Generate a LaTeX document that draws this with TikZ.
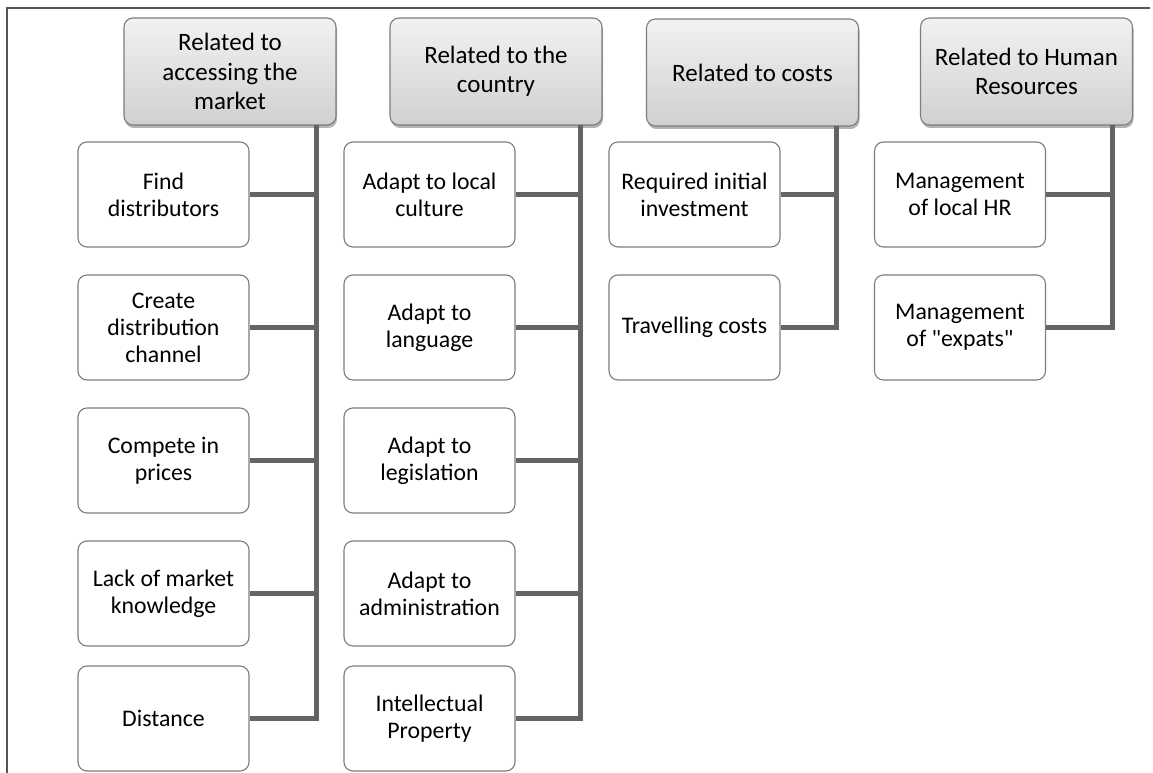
\documentclass[tikz,border=0pt]{standalone}
\usepackage{fontspec}
\setmainfont{Carlito}[Ligatures=TeXOff]
\usetikzlibrary{shadows,calc}
\definecolor{boxline}{RGB}{125,125,125}
\definecolor{conncol}{RGB}{100,100,100}
\definecolor{frame}{RGB}{85,85,85}
\definecolor{htop}{RGB}{242,242,242}
\definecolor{hbot}{RGB}{208,208,208}
\tikzset{
  hdr/.style={draw=boxline, line width=1.1pt, rounded corners=9pt,
    minimum width=212pt, minimum height=107pt, align=center,
    top color=htop, bottom color=hbot,
    drop shadow={shadow xshift=1pt, shadow yshift=-3pt, opacity=0.3, fill=black},
    font=\fontsize{25}{29.5}\selectfont, inner sep=0pt},
  chld/.style={draw=boxline, line width=1.1pt, rounded corners=9pt, fill=white,
    minimum width=171pt, minimum height=105pt, align=center,
    font=\fontsize{23.8}{27}\selectfont, inner sep=0pt},
  conn/.style={draw=conncol, line width=5pt, line join=miter},
  frm/.style={draw=frame, line width=2pt}
}
\begin{document}
\begin{tikzpicture}[x=1pt,y=-1pt]
\useasboundingbox (0,0) rectangle (1153,773);
\fill[white] (0,0) rectangle (1153,773);
\coordinate (fa) at (1150,8);
\coordinate (fb) at (7,8);
\coordinate (fc) at (7,775);
\draw[frm] (fa) -- (fb) -- (fc);
% headers
\node[hdr] (h1) at (230,71.5) {Related to\\accessing the\\market};
\node[hdr] (h2) at (496,71.5) {Related to the\\country};
\node[hdr] (h3) at (752.5,72.5) {Related to costs};
\node[hdr] (h4) at (1026.5,71.5) {Related to Human\\Resources};
% vertical anchors
\coordinate (v1) at (316,125);
\coordinate (v2) at (580,125);
\coordinate (v3) at (836,126);
\coordinate (v4) at (1112,125);
% column 1
\node[chld] (a1) at (163.5,194.5) {Find\\distributors};
\node[chld] (a2) at (163.5,327.5) {Create\\distribution\\channel};
\node[chld] (a3) at (163.5,460.5) {Compete in\\prices};
\node[chld] (a4) at (163.5,593.5) {Lack of market\\knowledge};
\node[chld] (a5) at (163.5,718.5) {Distance};
% column 2
\node[chld] (b1) at (429.5,194.5) {Adapt to local\\culture};
\node[chld] (b2) at (429.5,327.5) {Adapt to\\language};
\node[chld] (b3) at (429.5,460.5) {Adapt to\\legislation};
\node[chld] (b4) at (429.5,593.5) {Adapt to\\administration};
\node[chld] (b5) at (429.5,718.5) {Intellectual\\Property};
% column 3
\node[chld] (c1) at (694.5,194.5) {Required initial\\investment};
\node[chld] (c2) at (694.5,327.5) {Travelling costs};
% column 4
\node[chld] (d1) at (960,194.5) {Management\\of local HR};
\node[chld] (d2) at (960,327.5) {Management\\of "expats"};
% connectors
\draw[conn] (v1) |- (a5.east);
\foreach \n in {a1,a2,a3,a4} \draw[conn] (\n.east) -- (\n.east -| v1);
\draw[conn] (v2) |- (b5.east);
\foreach \n in {b1,b2,b3,b4} \draw[conn] (\n.east) -- (\n.east -| v2);
\draw[conn] (v3) |- (c2.east);
\draw[conn] (c1.east) -- (c1.east -| v3);
\draw[conn] (v4) |- (d2.east);
\draw[conn] (d1.east) -- (d1.east -| v4);
\end{tikzpicture}
\end{document}
